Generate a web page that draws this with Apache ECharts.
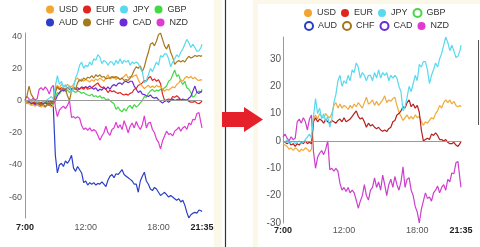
<!DOCTYPE HTML>
<html lang="en">
<head>
    <meta charset="utf-8">
    <title>currency strength</title>
    <style>
        html, body { margin: 0; padding: 0; background: #fff; }
        #myChart { width: 480px; height: 247px; }
    </style>
</head>
<body>
<div id="myChart"></div>
<script src="https://cdn.jsdelivr.net/npm/echarts@6/dist/echarts.min.js"></script>
<script>
    // minutes after 7:00, one sample per 10 min, last one at 21:35
    var minutes = [0, 10, 20, 30, 40, 50, 60, 70, 80, 90,
        100, 110, 120, 130, 140, 150, 160, 170, 180, 190,
        200, 210, 220, 230, 240, 250, 260, 270, 280, 290,
        300, 310, 320, 330, 340, 350, 360, 370, 380, 390,
        400, 410, 420, 430, 440, 450, 460, 470, 480, 490,
        500, 510, 520, 530, 540, 550, 560, 570, 580, 590,
        600, 610, 620, 630, 640, 650, 660, 670, 680, 690,
        700, 710, 720, 730, 740, 750, 760, 770, 780, 790,
        800, 810, 820, 830, 840, 850, 860, 870, 875];
    var xTickMinutes = [0, 300, 660, 875];
    var xTickLabels = ['7:00', '12:00', '18:00', '21:35'];

    var usd = [-1, -1.5, -2, -3, -2.5, -3.5, -2.5, -3, -4, -3,
        -3.5, -2.5, -3, -4, -3, 8, 9.5, 8, 10, 9,
        8.5, 10, 9, 8.5, 10, 13, 14, 12, 13.5, 12,
        13, 12.5, 11.5, 13, 12, 13.5, 12.5, 14, 13, 12,
        14, 16, 13.5, 14, 15, 13, 14.5, 13, 14, 15,
        16.5, 14, 15, 14.5, 15.5, 16, 13, 10.5, 9, 7.5,
        8.5, 9.5, 8, 9, 8, 9.5, 8.5, 9, 7, 5.8,
        7, 6.5, 7.5, 8.5, 8, 10, 11, 13, 12, 14,
        15, 14, 15, 13.5, 14.5, 13, 12.5, 13, 12.5];
    var eur = [0, -0.5, -1, -0.5, -1.5, -1, -2, -1, -1.5, -0.5,
        -1, 0, -1, -0.5, -1, 7, 8.5, 7, 8, 7.5,
        6.5, 8, 7, 6.5, 7.5, 7, 6.5, 7.5, 8, 7,
        8.5, 7, 7.5, 8, 9, 10, 11, 9, 8, 8.5,
        7, 5, 6.5, 5.5, 6, 5, 4.5, 5, 4, 3.5,
        4, 3.4, 4.5, 5, 7, 7.5, 9.5, 10, 11, 12.5,
        12, 14, 15, 12.5, 13.5, 12, 13, 10.5, 4, 0,
        0.5, 1, 0.5, 2.5, 2, 3, 2, 0.5, 0.5, 0,
        0.5, -0.5, -1, -1, -0.5, -1.5, -2, -1, 0];
    var jpy = [0, -0.5, 0.5, -1, -0.5, 0, -1, -0.5, 0, -1,
        -0.5, 0.5, 1.5, 2.5, 1, 9, 15.5, 10, 12, 8,
        10, 7, 9, 5, 8, 14, 17, 22, 24, 20,
        22, 21, 24, 22, 26, 25, 28.5, 27, 23, 25,
        24, 22, 24, 24, 22, 25, 23, 26, 23, 25,
        24, 25, 22, 24, 23, 24, 23, 20, 18, 11,
        12.5, 16, 20, 18, 21, 24, 22, 28, 27, 29,
        29, 26, 21, 24, 26, 28.5, 27, 30, 32, 35,
        38, 36, 33, 35, 33, 30.5, 31, 33, 35];
    var gbp = [-1, -2, -1, -2.5, -1.5, -3, -2, -1, -2.5, -1.5,
        -2, -1, -2, -3, -2, 2, 5, 4, 6, 7,
        5.5, 6.5, 5, 7, 6, 5, 6, 5.5, 4.5, 5,
        4, 3.5, 3, 4, 2.5, 3, 2, 3, 1.5, 2,
        0.5, 1, 0, -1, -2, -5.5, -4, -6, -7, -5,
        -6.5, -4, -3, -5, -2.5, -4, -3, -1.5, 0, 2.5,
        2, 4.5, 6, 7, 5.5, 6.5, 6, 7, 6.5, 8,
        9, 12, 13, 16, 19, 15, 16, 12, 10, 12,
        8, 7, 5, 2, 3, 5, 6, 5, 7];
    var aud = [0, -1, 0.5, -1.5, -1, -2, -1, -2.5, -1.5, -2,
        -1, -2.5, -2, -3, -4, -34, -45, -40, -39, -41,
        -37.5, -39, -37, -34, -42, -44, -41, -43, -45, -51,
        -50, -52.5, -51, -52, -51, -52.5, -51.5, -52, -50.5, -52,
        -53.5, -49.5, -47, -46, -48, -45.5, -46, -44.5, -43, -46,
        -47, -48, -49, -50, -52, -52, -57, -50, -47, -44.5,
        -50, -52, -55, -56, -54, -55, -57, -59, -58, -57,
        -58.5, -60, -59, -60, -61, -62, -61, -63, -62, -65,
        -69.5, -73, -71, -70, -69.5, -70, -68, -68.5, -69];
    var chf = [0, 3, 9, 4, 2, -1, -2, -1, -3, -2,
        -4, -2.5, -3, -1, -2, 5, 8.5, 7, 6.5, 7.5,
        7, 3, 0, 6, 8.5, 7, 11, 13, 12, 14,
        13, 14.5, 14, 15.5, 14, 16, 15, 16, 14.5, 15,
        13.5, 14, 14, 15, 14, 15, 14, 13, 14, 12.5,
        13, 12.5, 14, 16, 19, 21, 20, 21.5, 18, 21,
        26, 30, 35, 36, 34, 37, 41, 42, 38, 34,
        32, 35, 30, 27, 22.5, 24, 25, 24, 25, 24,
        26, 27.5, 26.5, 27, 28, 27.5, 28, 27.5, 28];
    var cad = [1, -1, 0, -2, -1.5, -3, -2, -3.5, -2.5, -3,
        -4, -2, -3, -1.5, -2, 0, 3, 5, 6.5, 6,
        7, 8, 8.5, 7, 8, 7.5, 8, 7, 8.5, 8,
        8.5, 8, 9, 8, 7, 8, 6, 7, 6.5, 8,
        7, 8.5, 7, 9, 10, 9, 10.5, 11, 10, 11.5,
        12, 11, 12, 12, 9, 7, 5, 6, 4, 3.7,
        3, 2.5, 3.5, 2, 1.5, 2, 0.5, -0.6, -1.5, -0.5,
        0, -1, 0, 1, 0, 0.5, 1, 0, 1, 0.5,
        0, 1.5, 2.5, 6, 9, 5, 4.5, 5.5, 6];
    var nzd = [1.5, 2.5, 1, 0, 1.5, 0.5, 1, 7, 8, 6.5,
        8.5, 7, 4, 8, 9.5, -4, -10, -6, -4.5, -3.5,
        -5, -3, 0, -10.5, -10, -11, -10, -11, -15.5, -18,
        -17, -18.5, -17, -19, -18, -19, -21.6, -24.6, -22, -20,
        -16, -20, -21.6, -18, -17, -13.5, -17, -15, -18, -12.5,
        -16, -20, -16, -14, -17, -13, -16, -18, -15, -9.5,
        -17, -14, -13.5, -18, -20, -24, -26, -30, -25, -22,
        -19, -21, -20.5, -22, -19, -18, -16.5, -19, -17, -16,
        -18, -14, -15, -11.7, -12, -8, -7.5, -14, -17];

    var chart = echarts.init(document.getElementById('myChart'));

    function pairs(vals) {
        return vals.map(function (v, i) { return [minutes[i], v]; });
    }

    function lineSeries(name, vals, color, grid) {
        return {
            name: name,
            type: 'line',
            xAxisIndex: grid,
            yAxisIndex: grid,
            data: pairs(vals),
            showSymbol: false,
            symbol: 'none',
            animation: false,
            lineStyle: { color: color, width: 1.2 },
            itemStyle: { color: color }
        };
    }

    var zeroLine = {
        silent: true,
        symbol: 'none',
        label: { show: false },
        lineStyle: { color: '#9a9a9a', width: 1, type: 'solid' },
        data: [{ yAxis: 0 }]
    };

    function xAxisFor(grid, margin) {
        return {
            type: 'value',
            gridIndex: grid,
            min: 0,
            max: 875,
            interval: 60,
            axisLine: { show: false },
            axisTick: { show: false },
            splitLine: { show: false },
            axisLabel: {
                margin: margin,
                fontSize: 9,
                color: '#555',
                fontFamily: 'Liberation Sans',
                formatter: function (v) {
                    var k = xTickMinutes.indexOf(v);
                    if (k < 0) return '';
                    if (k === 0 || k === 3) return '{b|' + xTickLabels[k] + '}';
                    return xTickLabels[k];
                },
                rich: {
                    b: { fontWeight: 'bold', color: '#222', fontSize: 9, fontFamily: 'Liberation Sans' }
                }
            }
        };
    }

    function yAxisFor(grid, size, margin, hideMin) {
        return {
            type: 'value',
            gridIndex: grid,
            min: 'dataMin',
            max: 'dataMax',
            splitNumber: 5,
            axisLine: { show: true, lineStyle: { color: '#9a9a9a', width: 1 } },
            axisTick: { show: false },
            splitLine: { show: false },
            axisLabel: {
                margin: margin,
                fontSize: size,
                color: '#555',
                fontFamily: 'Liberation Sans',
                showMinLabel: !hideMin,
                showMaxLabel: false
            }
        };
    }

    function legendRow(names, left, top) {
        return {
            left: left,
            top: top,
            padding: 0,
            itemWidth: 8,
            itemHeight: 8,
            itemGap: 5,
            icon: 'circle',
            selectedMode: false,
            itemStyle: { borderWidth: 1 },
            textStyle: { fontSize: 9, color: '#333', fontFamily: 'Liberation Sans', width: 20 },
            data: names
        };
    }

    var option = {
        backgroundColor: '#fff',
        animation: false,
        grid: [
            { left: 25, top: 33, width: 177, height: 185 },
            { left: 283, top: 37, width: 178, height: 186 }
        ],
        legend: [
            legendRow(['USD', 'EUR', 'JPY', 'GBP'], 46, 5),
            legendRow(['AUD', 'CHF', 'CAD', 'NZD'], 46, 18),
            legendRow(['USD', 'EUR', 'JPY', { name: 'GBP', icon: 'emptyCircle' }], 304, 8),
            legendRow([{ name: 'AUD', icon: 'emptyCircle' }, { name: 'CHF', icon: 'emptyCircle' },
                { name: 'CAD', icon: 'emptyCircle' }, 'NZD'], 304, 21)
        ],
        xAxis: [xAxisFor(0, 5), xAxisFor(1, 3)],
        yAxis: [yAxisFor(0, 9, 3, true), yAxisFor(1, 10, 2, false)],
        graphic: [
            { type: 'rect', silent: true, z: -1, shape: { x: 214, y: 0, width: 8, height: 247 }, style: { fill: '#fbf8ea' } },
            { type: 'rect', silent: true, z: -1, shape: { x: 253, y: 0, width: 227, height: 4 }, style: { fill: '#fbf8ea' } },
            { type: 'rect', silent: true, z: -1, shape: { x: 253, y: 0, width: 5, height: 247 }, style: { fill: '#fbf8ea' } },
            { type: 'line', silent: true, shape: { x1: 225.5, y1: 0, x2: 225.5, y2: 247 }, style: { stroke: '#333', lineWidth: 1.2 } },
            { type: 'line', silent: true, shape: { x1: 478.5, y1: 40, x2: 478.5, y2: 125 }, style: { stroke: '#555', lineWidth: 1 } },
            {
                type: 'polygon', silent: true, z: 10,
                shape: { points: [[222, 112], [244, 112], [244, 107], [263, 119.5], [244, 132], [244, 127], [222, 127]] },
                style: { fill: '#e5202a' }
            }
        ],
        series: [
            lineSeries('GBP', gbp, '#45d845', 0),
            lineSeries('AUD', aud, '#2a3fc6', 0),
            lineSeries('CAD', cad, '#6b2bd6', 0),
            lineSeries('NZD', nzd, '#e03ad2', 0),
            lineSeries('EUR', eur, '#e2241f', 0),
            lineSeries('USD', usd, '#f3a532', 0),
            lineSeries('CHF', chf, '#a5781c', 0),
            lineSeries('JPY', jpy, '#58d9ef', 0),
            lineSeries('NZD', nzd, '#cc3fcc', 1),
            lineSeries('USD', usd, '#eeaa3a', 1),
            lineSeries('EUR', eur, '#b3201e', 1),
            lineSeries('JPY', jpy, '#58d9ef', 1)
        ]
    };
    option.series[0].markLine = zeroLine;
    option.series[8].markLine = zeroLine;

    chart.setOption(option);
</script>
</body>
</html>
